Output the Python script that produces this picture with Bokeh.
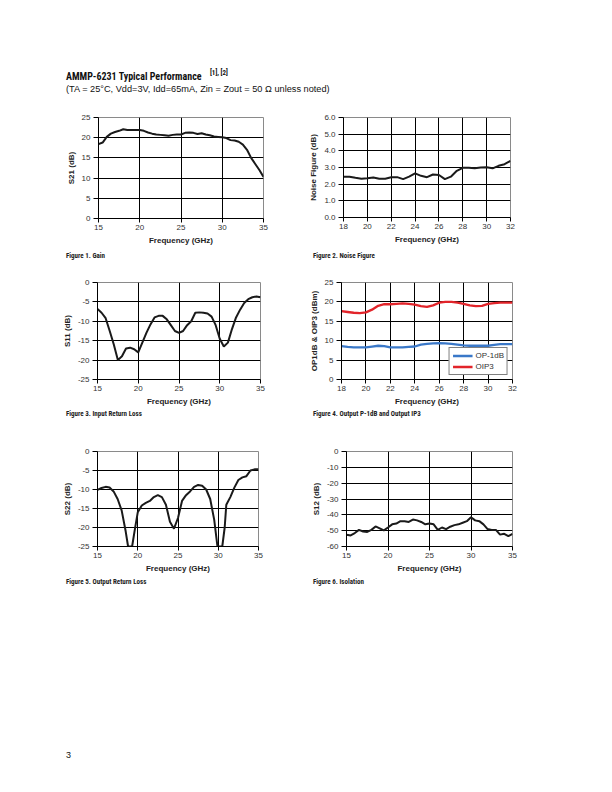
from bokeh.plotting import figure
from bokeh.layouts import column, row
from bokeh.models import Div, Range1d, FixedTicker, NumeralTickFormatter, Legend, LegendItem
from bokeh.embed import file_html
from bokeh.resources import INLINE

# ---------------- data ----------------
gain_freq = [15, 15.5, 16, 16.5, 17, 17.5, 18, 18.5, 19, 19.5, 20, 20.5, 21, 21.5, 22, 22.5, 23, 23.5, 24,
             24.5, 25, 25.5, 26, 26.5, 27, 27.5, 28, 28.5, 29, 29.5, 30, 30.5, 31, 31.5, 32, 32.5, 33, 33.5,
             34, 34.5, 35]
gain_s21 = [18.4, 18.8, 20.2, 21.0, 21.4, 21.7, 22.1, 21.9, 21.9, 21.9, 21.9, 21.7, 21.3, 21.0, 20.8, 20.7,
            20.6, 20.5, 20.7, 20.8, 20.8, 21.2, 21.3, 21.2, 20.9, 21.1, 20.8, 20.6, 20.3, 20.2, 20.1, 19.9,
            19.4, 19.3, 19.0, 18.3, 17.0, 15.0, 13.5, 12.0, 10.3]

nf_freq = [18, 18.5, 19, 19.5, 20, 20.5, 21, 21.5, 22, 22.5, 23, 23.5, 24, 24.5, 25, 25.5, 26, 26.5, 27,
           27.5, 28, 28.5, 29, 29.5, 30, 30.5, 31, 31.5, 32]
nf_db = [2.45, 2.45, 2.38, 2.33, 2.35, 2.40, 2.32, 2.33, 2.42, 2.42, 2.30, 2.45, 2.65, 2.50, 2.42, 2.58,
         2.55, 2.30, 2.45, 2.80, 2.98, 2.98, 2.95, 3.00, 3.02, 2.95, 3.10, 3.20, 3.40]

s11_freq = [15, 15.5, 16, 16.5, 17, 17.5, 18, 18.5, 19, 19.5, 20, 20.5, 21, 21.5, 22, 22.5, 23, 23.5, 24,
            24.5, 25, 25.5, 26, 26.5, 27, 27.5, 28, 28.5, 29, 29.5, 30, 30.5, 31, 31.5, 32, 32.5, 33, 33.5,
            34, 34.5, 35]
s11_db = [-6.8, -7.8, -9.2, -12.5, -16.0, -20.0, -19.0, -17.0, -16.8, -17.2, -18.0, -15.5, -13.0, -10.8,
          -9.0, -8.6, -8.6, -9.5, -11.0, -12.5, -13.0, -12.5, -11.0, -10.0, -7.8, -7.7, -7.8, -8.0, -8.8,
          -11.0, -14.5, -16.5, -15.5, -12.0, -9.0, -7.0, -5.3, -4.3, -3.8, -3.6, -3.8]

op_freq = [18, 18.5, 19, 19.5, 20, 20.5, 21, 21.5, 22, 22.5, 23, 23.5, 24, 24.5, 25, 25.5, 26, 26.5, 27,
           27.5, 28, 28.5, 29, 29.5, 30, 30.5, 31, 31.5, 32]
op1db = [8.6, 8.4, 8.3, 8.3, 8.3, 8.5, 8.7, 8.6, 8.3, 8.3, 8.3, 8.4, 8.5, 9.0, 9.2, 9.3, 9.4, 9.3, 9.2,
         9.0, 8.8, 8.7, 8.7, 8.7, 8.7, 8.9, 9.1, 9.1, 9.1]
oip3 = [17.6, 17.4, 17.2, 17.1, 17.3, 18.0, 19.0, 19.4, 19.4, 19.5, 19.6, 19.5, 19.3, 18.9, 18.7, 19.1,
        19.8, 20.0, 20.0, 19.8, 19.5, 19.1, 18.9, 19.0, 19.5, 19.7, 19.8, 19.8, 19.8]

s22_freq = [15, 15.5, 16, 16.5, 17, 17.5, 18, 18.5, 18.8, 19, 19.3, 19.6, 20, 20.5, 21, 21.5, 22, 22.5, 23,
            23.5, 24, 24.5, 25, 25.5, 26, 26.5, 27, 27.5, 28, 28.5, 29, 29.5, 29.9, 30.5, 30.8, 31, 31.5,
            32, 32.5, 33, 33.5, 34, 34.5, 35]
s22_db = [-10.1, -9.6, -9.3, -9.5, -10.5, -12.5, -15.5, -21.0, -25.0, -25.0, -25.0, -21.0, -16.0, -14.2,
          -13.5, -13.0, -12.0, -11.5, -12.0, -14.0, -18.5, -20.3, -17.5, -13.0, -11.5, -10.5, -9.3, -8.8,
          -9.0, -10.0, -12.5, -18.0, -25.0, -25.0, -20.0, -14.0, -12.0, -9.5, -7.5, -6.8, -6.5, -5.0, -4.7,
          -4.7]

s12_freq = [15, 15.5, 16, 16.5, 17, 17.5, 18, 18.5, 19, 19.5, 20, 20.5, 21, 21.5, 22, 22.5, 23, 23.5, 24,
            24.5, 25, 25.5, 26, 26.5, 27, 27.5, 28, 28.5, 29, 29.5, 30, 30.5, 31, 31.5, 32, 32.5, 33, 33.5,
            34, 34.5, 35]
s12_db = [-52.6, -53.0, -51.5, -49.5, -50.5, -50.8, -49.5, -47.3, -48.5, -49.8, -48.0, -46.0, -45.5, -44.0,
          -44.0, -44.5, -43.0, -43.5, -44.5, -46.0, -45.5, -46.0, -49.5, -48.0, -49.0, -47.5, -46.5, -46.0,
          -45.0, -44.0, -41.5, -43.5, -44.0, -46.0, -49.0, -49.5, -49.5, -52.5, -52.0, -53.5, -52.0]

ticks_15_35 = [15, 20, 25, 30, 35]
ticks_18_32 = [18, 20, 22, 24, 26, 28, 30, 32]

NARROW = "'Liberation Sans Narrow', 'Roboto Condensed', 'Liberation Sans', sans-serif"
REG = "'Liberation Sans', 'Noto Sans', sans-serif"
LINE = "#1a1a1a"


def chart(xr, yr, xticks, yticks, ylabel, bl, fw, br, bt, fh, bb, fmt="0"):
    p = figure(x_range=Range1d(*xr), y_range=Range1d(*yr), title=None,
               frame_width=fw, frame_height=fh, min_border_left=bl, min_border_right=br,
               min_border_top=bt, min_border_bottom=bb, toolbar_location=None,
               output_backend="svg", background_fill_color="white", border_fill_color="white")
    p.outline_line_color = "#8a8a8a"
    p.outline_line_width = 1
    for ax, ticks in ((p.xaxis[0], xticks), (p.yaxis[0], yticks)):
        ax.ticker = FixedTicker(ticks=ticks)
        ax.major_tick_in = 0
        ax.minor_tick_line_color = None
        ax.axis_line_color = "black"
        ax.major_tick_line_color = "black"
        ax.major_label_text_font = REG
        ax.major_label_text_font_size = "8px"
        ax.major_label_text_color = "#333333"
        ax.axis_label_text_font = REG
        ax.axis_label_text_font_size = "8px"
        ax.axis_label_text_font_style = "bold"
        ax.axis_label_text_color = "#222222"
        ax.axis_label_standoff = 3
    p.xaxis.major_tick_out = 4
    p.xaxis.major_label_standoff = 2
    p.yaxis.major_tick_out = 5
    p.yaxis.major_label_standoff = 3
    p.xaxis.axis_label = "Frequency (GHz)"
    p.yaxis.axis_label = ylabel
    p.xaxis.formatter = NumeralTickFormatter(format="0")
    p.yaxis.formatter = NumeralTickFormatter(format=fmt)
    p.xgrid.ticker = FixedTicker(ticks=xticks[1:-1])
    p.ygrid.ticker = FixedTicker(ticks=yticks[1:-1] if yticks[-1] == yr[1] else yticks[1:])
    for g in (p.xgrid[0], p.ygrid[0]):
        g.grid_line_color = "black"
        g.grid_line_width = 1
    return p


def cap_div(text, left, top, w, h):
    html = ('<div style="position:relative;width:%dpx;height:%dpx;">'
            '<span style="position:absolute;left:%dpx;top:%dpx;white-space:nowrap;'
            'font-family:%s;font-weight:bold;font-size:7px;color:#222;">%s</span></div>'
            % (w, h, left, top, NARROW.replace("'", "&quot;"), text))
    return Div(text=html, width=w, height=h, margin=0)


# header
hdr = ('<div style="position:relative;width:612px;height:105px;">'
       '<span style="position:absolute;left:66px;top:70px;white-space:nowrap;font-family:%s;'
       'font-weight:bold;font-size:10px;color:#111;">AMMP-6231 Typical Performance</span>'
       '<span style="position:absolute;left:210px;top:68px;white-space:nowrap;font-family:%s;'
       'font-weight:bold;font-size:7px;color:#111;">[1], [2]</span>'
       '<span style="position:absolute;left:66px;top:83px;white-space:nowrap;font-family:%s;'
       'font-size:9.2px;color:#111;">(TA = 25°C, Vdd=3V, Idd=65mA, Zin = Zout = 50 &#937; unless noted)</span>'
       '</div>') % (NARROW.replace("'", "&quot;"), NARROW.replace("'", "&quot;"), REG.replace("'", "&quot;"))
header = Div(text=hdr, width=612, height=105, margin=0)

# Figure 1
p1 = chart((15, 35), (0, 25), ticks_15_35, [0, 5, 10, 15, 20, 25], "S21 (dB)", 98, 165, 43, 12, 101, 30)
p1.line(gain_freq, gain_s21, line_color=LINE, line_width=2)
# Figure 2
p2 = chart((18, 32), (0, 6), ticks_18_32, [0, 1, 2, 3, 4, 5, 6], "Noise Figure (dB)", 36, 167, 103, 12, 100, 31, fmt="0.0")
p2.line(nf_freq, nf_db, line_color=LINE, line_width=2)
# Figure 3
p3 = chart((15, 35), (-25, 0), ticks_15_35, [-25, -20, -15, -10, -5, 0], "S11 (dB)", 97, 163, 46, 14, 97, 30)
p3.line(s11_freq, s11_db, line_color=LINE, line_width=2)
# Figure 4
p4 = chart((18, 32), (0, 25), ticks_18_32, [0, 5, 10, 15, 20, 25], "OP1dB & OIP3 (dBm)", 34, 171, 101, 14, 97, 30)
r_op = p4.line(op_freq, op1db, line_color="#3a78c8", line_width=2.3)
r_ip = p4.line(op_freq, oip3, line_color="#e2242a", line_width=2.3)
leg = Legend(items=[LegendItem(label="OP-1dB", renderers=[r_op]), LegendItem(label="OIP3", renderers=[r_ip])],
             location="bottom_right")
leg.label_text_font = REG
leg.label_text_font_size = "8px"
leg.label_text_color = "#333333"
leg.label_height = 9
leg.glyph_height = 9
leg.glyph_width = 20
leg.spacing = 2
leg.padding = 3
leg.margin = 4
leg.border_line_color = "black"
leg.border_line_width = 1
leg.background_fill_alpha = 1
leg.label_standoff = 3
p4.add_layout(leg)
# Figure 5
p5 = chart((15, 35), (-25, 0), ticks_15_35, [-25, -20, -15, -10, -5, 0], "S22 (dB)", 97, 161, 48, 11, 95, 30)
p5.line(s22_freq, s22_db, line_color=LINE, line_width=2)
# Figure 6
p6 = chart((15, 35), (-60, 0), ticks_15_35, [-60, -50, -40, -30, -20, -10, 0], "S12 (dB)", 40, 166, 100, 11, 95, 30)
p6.line(s12_freq, s12_db, line_color=LINE, line_width=2)

c1 = row(cap_div("Figure 1. Gain", 66, 3, 306, 20), cap_div("Figure 2. Noise Figure", 7, 3, 306, 20))
c2 = row(cap_div("Figure 3. Input Return Loss", 66, 0, 306, 31), cap_div("Figure 4. Output P-1dB and Output IP3", 7, 0, 306, 31))
c3 = row(cap_div("Figure 5. Output Return Loss", 66, 1, 306, 20), cap_div("Figure 6. Isolation", 7, 1, 306, 20))

foot = Div(text=('<div style="position:relative;width:612px;height:190px;">'
                 '<span style="position:absolute;left:66px;top:153px;font-family:%s;font-size:9px;color:#111;">3</span>'
                 '</div>') % REG.replace("'", "&quot;"), width=612, height=190, margin=0)

page = column(header, row(p1, p2), c1, row(p3, p4), c2, row(p5, p6), c3, foot)

open("out.html", "w").write(file_html(page, INLINE))
